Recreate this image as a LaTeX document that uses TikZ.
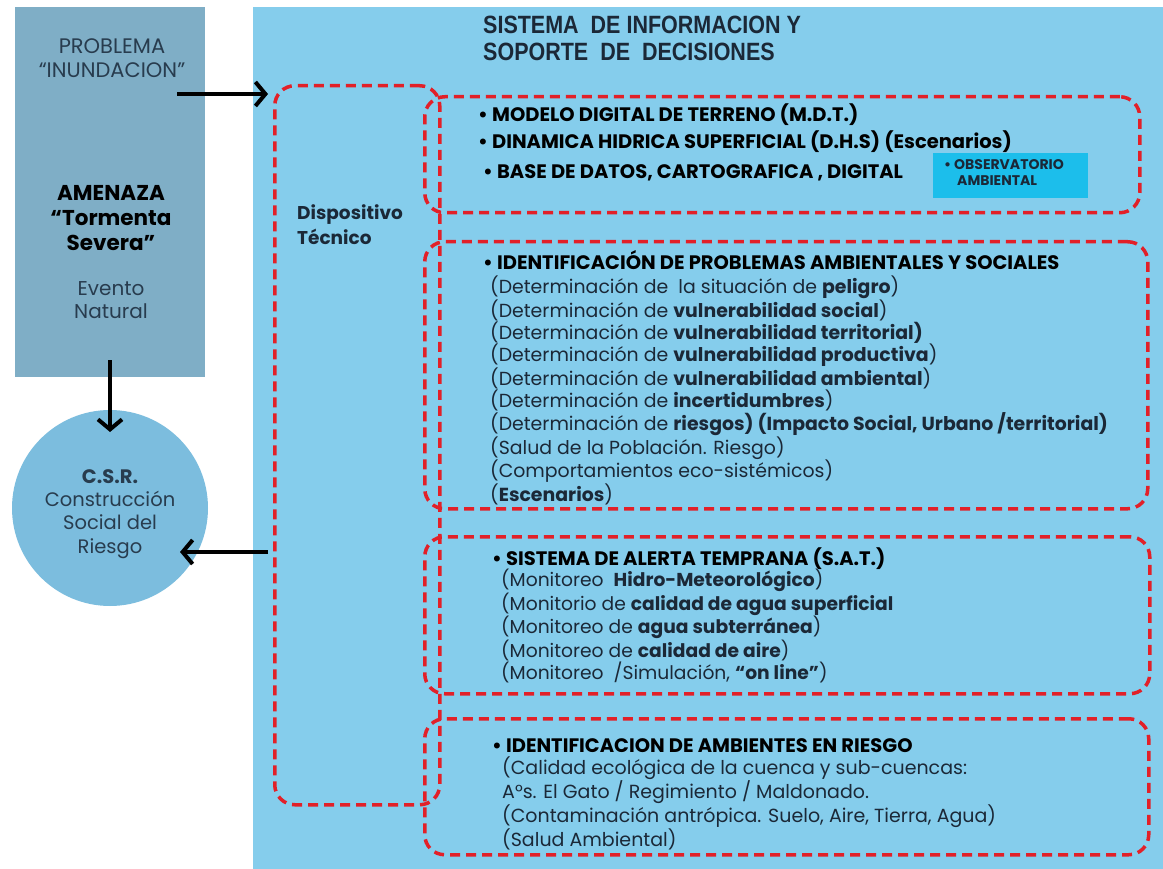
\documentclass[tikz,border=0pt]{standalone}
\usepackage{fontspec}
\setmainfont{Poppins}
\newfontfamily\titlefont[FakeStretch=0.86]{Liberation Sans}
\usetikzlibrary{arrows.meta}
\definecolor{amenazablue}{RGB}{127,174,198}
\definecolor{sisblue}{RGB}{133,205,236}
\definecolor{csrblue}{RGB}{124,189,222}
\definecolor{redline}{RGB}{226,32,40}
\definecolor{obscyan}{RGB}{28,190,235}
\definecolor{ink}{RGB}{27,40,55}
\definecolor{slate}{RGB}{40,60,78}
\tikzset{
  redbox/.style={draw=redline,line width=3.5pt,dash pattern=on 10pt off 6pt,
    rounded corners=20pt,anchor=north west,inner sep=0pt},
  flow/.style={line width=4pt,-{Straight Barb[length=10pt,width=24pt]}},
  lefttxt/.style={align=center,inner sep=0pt,text=slate},
  boxtxt/.style={anchor=north west,align=left,inner sep=0pt,text=ink},
  headtxt/.style={anchor=base west,inner sep=0pt,text=black,
    font=\bfseries\fontsize{19.5}{22}\selectfont}
}

\begin{document}
\begin{tikzpicture}[x=1pt,y=-1pt]
\useasboundingbox (0,0) rectangle (1163,869);
% fondos
\node[fill=amenazablue,anchor=north west,inner sep=0pt,minimum width=190pt,minimum height=370pt] (amenaza) at (15,7) {};
\node[fill=sisblue,anchor=north west,inner sep=0pt,minimum width=910pt,minimum height=862pt] (sistema) at (253,7) {};
\node[circle,fill=csrblue,minimum size=196pt,inner sep=0pt] (csr) at (110,508) {};
% textos izquierda
\node[lefttxt,font=\fontsize{21}{23.5}\selectfont] (problema) at (112,58) {PROBLEMA\\“INUNDACION”};
\node[lefttxt,text=black,font=\bfseries\fontsize{21.5}{25}\selectfont] (tormenta) at (111,218) {AMENAZA\\“Tormenta\\Severa”};
\node[lefttxt,font=\fontsize{20}{22.5}\selectfont] (evento) at (111,300) {Evento\\Natural};
\node[lefttxt,font=\fontsize{19.5}{23.2}\selectfont] (csrtxt) at (110,514) {\textbf{C.S.R.}\\Construcción\\Social del\\Riesgo};
% titulo
\node[anchor=north west,align=left,inner sep=0pt,text=ink,font=\titlefont\bfseries\fontsize{25}{27}\selectfont] (titulo) at (483,16) {SISTEMA\ \ DE INFORMACION Y\\SOPORTE\ \ DE\ \ DECISIONES};
% cajas
\node[redbox,minimum width=165pt,minimum height=719pt] (disp) at (273,84) {};
\node[redbox,minimum width=715pt,minimum height=116pt] (mdt) at (423,95) {};
\node[redbox,minimum width=723pt,minimum height=267pt] (idp) at (423,240) {};
\node[redbox,minimum width=725pt,minimum height=157pt] (sat) at (423,535) {};
\node[redbox,minimum width=724pt,minimum height=136pt] (amb) at (423,717) {};
\node[boxtxt,font=\bfseries\fontsize{18.5}{25}\selectfont] (disptxt) at (297,204) {Dispositivo\\Técnico};
% M.D.T.
\node[headtxt] (mdt1) at (478,122) {\textbullet\ MODELO DIGITAL DE TERRENO (M.D.T.)};
\node[headtxt] (mdt2) at (478,149) {\textbullet\ DINAMICA HIDRICA SUPERFICIAL (D.H.S) (Escenarios)};
\node[headtxt] (mdt3) at (483,179) {\textbullet\ BASE DE DATOS, CARTOGRAFICA , DIGITAL};
\node[fill=obscyan,anchor=north west,inner sep=0pt,minimum width=155pt,minimum height=45pt] (obs) at (933,153) {};
\node[boxtxt,font=\bfseries\fontsize{14}{16.5}\selectfont] (obstxt) at (944,159) {\textbullet\ OBSERVATORIO\\\hspace*{13pt}AMBIENTAL};
% problemas ambientales
\node[headtxt] (idphead) at (483,270) {\textbullet\ IDENTIFICACIÓN DE PROBLEMAS AMBIENTALES Y SOCIALES};
\node[boxtxt,font=\fontsize{18.9}{22.33}\selectfont] (idptxt) at (490,275.5) {(Determinación de\ \ la situación de \textbf{peligro})\\
(Determinación de \textbf{vulnerabilidad social})\\
(Determinación de \textbf{vulnerabilidad territorial)}\\
(Determinación de \textbf{vulnerabilidad productiva})\\
(Determinación de \textbf{vulnerabilidad ambiental})\\
(Determinación de \textbf{incertidumbres})\\
(Determinación de \textbf{riesgos) (Impacto Social, Urbano /territorial)}\\
(Salud de la Población. Riesgo)\\
(Comportamientos eco-sistémicos)\\
(\textbf{Escenarios})};
% alerta temprana
\node[headtxt] (sathead) at (492,565) {\textbullet\ SISTEMA DE ALERTA TEMPRANA (S.A.T.)};
\node[boxtxt,font=\fontsize{18.7}{22.5}\selectfont] (sattxt) at (501,569) {(Monitoreo\ \ \textbf{Hidro-Meteorológico})\\
(Monitorio de \textbf{calidad de agua superficial}\\
(Monitoreo de \textbf{agua subterránea})\\
(Monitoreo de \textbf{calidad de aire})\\
(Monitoreo\ \ /Simulación, \textbf{“on line”})};
% ambientes en riesgo
\node[headtxt] (ambhead) at (492,752) {\textbullet\ IDENTIFICACION DE AMBIENTES EN RIESGO};
\node[boxtxt,font=\fontsize{19}{22.7}\selectfont] (ambtxt) at (502,756.5) {(Calidad ecológica de la cuenca y sub-cuencas:\\
A°s. El Gato / Regimiento / Maldonado.\\
(Contaminación antrópica. Suelo, Aire, Tierra, Agua)\\
(Salud Ambiental)};
% flechas
\coordinate (probfrom) at (177,94);
\coordinate (probto) at (268,94);
\coordinate (amenfrom) at (110,360);
\coordinate (amento) at (110,432);
\coordinate (dispfrom) at (268,552);
\coordinate (dispto) at (180,552);
\draw[flow] (probfrom) -- (probto);
\draw[flow] (amenfrom) -- (amento);
\draw[flow] (dispfrom) -- (dispto);
\end{tikzpicture}
\end{document}
